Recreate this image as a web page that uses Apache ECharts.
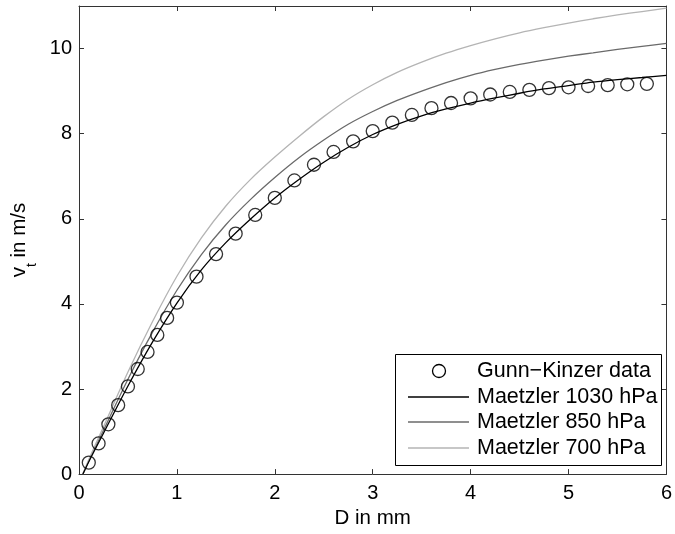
<!DOCTYPE html>
<html>
<head>
<meta charset="utf-8">
<script src="https://cdn.jsdelivr.net/npm/echarts@6/dist/echarts.min.js"></script>
<style>
html,body{margin:0;padding:0;background:#fff;}
#chart{width:675px;height:534px;}
</style>
</head>
<body>
<div id="chart"></div>
<script>
// Gunn-Kinzer measured data
var gkD = [0.1,0.2,0.3,0.4,0.5,0.6,0.7,0.8,0.9,1.0,1.2,1.4,1.6,1.8,2.0,2.2,2.4,2.6,2.8,3.0,3.2,3.4,3.6,3.8,4.0,4.2,4.4,4.6,4.8,5.0,5.2,5.4,5.6,5.8];
var gkV = [0.27,0.72,1.17,1.62,2.06,2.47,2.87,3.27,3.67,4.03,4.64,5.17,5.65,6.09,6.49,6.90,7.27,7.57,7.82,8.06,8.26,8.44,8.60,8.72,8.83,8.92,8.98,9.03,9.07,9.09,9.12,9.14,9.16,9.17];

// Maetzler curves
var fitD  = [0.04,0.1,0.25,0.5,0.75,1.0,1.25,1.5,1.75,2.0,2.25,2.5,2.75,3.0,3.25,3.5,3.75,4.0,4.25,4.5,4.75,5.0,5.25,5.5,5.75,6.0];
var v1030 = [0,0.29,0.96,2.07,3.10,4.02,4.80,5.44,5.99,6.49,6.93,7.33,7.68,7.98,8.22,8.42,8.58,8.72,8.84,8.95,9.05,9.13,9.21,9.27,9.32,9.37];
var v850  = [0,0.31,1.03,2.23,3.33,4.32,5.16,5.86,6.45,6.97,7.44,7.85,8.22,8.52,8.78,9.00,9.20,9.37,9.51,9.63,9.73,9.82,9.90,9.98,10.05,10.12];
var v700  = [0,0.34,1.11,2.40,3.58,4.65,5.55,6.30,6.92,7.45,7.94,8.40,8.81,9.15,9.44,9.68,9.89,10.07,10.23,10.37,10.49,10.60,10.70,10.79,10.87,10.95];

var seriesNames = ['Gunn\u2212Kinzer data','Maetzler 1030 hPa','Maetzler 850 hPa','Maetzler 700 hPa'];
var lineColors = ['#000000','#6a6a6a','#b4b4b4'];

var xTicks = {min:0, max:6, interval:1};
var yTicks = {min:0, max:11, interval:2};

function pairs(xs, ys){ return xs.map(function(x,i){ return [x, ys[i]]; }); }

var FONT = 'Liberation Sans, Arial, Helvetica, sans-serif';
var axisCol = '#333333';

var chart = echarts.init(document.getElementById('chart'), null, {renderer:'canvas'});

var legendRows = [371, 397, 422, 448];
var graphics = [
  {type:'rect', z:100, shape:{x:395.5, y:354.5, width:266, height:111}, style:{fill:'#fff', stroke:'#000', lineWidth:1}},
  {type:'circle', z:101, shape:{cx:439, cy:legendRows[0], r:6.5}, style:{fill:'none', stroke:'#000', lineWidth:1.3}}
];
for (var i=0;i<3;i++){
  graphics.push({type:'line', z:101, shape:{x1:408, y1:legendRows[i+1], x2:469, y2:legendRows[i+1]}, style:{stroke:lineColors[i], lineWidth:1.3}});
}
for (var j=0;j<4;j++){
  graphics.push({type:'text', z:101, x:477, y:legendRows[j], style:{text:seriesNames[j], fill:'#000', font:'21.5px ' + FONT, verticalAlign:'middle', align:'left'}});
}

var commonAxis = {
  axisLine:{show:true, onZero:false, lineStyle:{color:axisCol, width:1}},
  axisTick:{show:true, inside:true, length:5, lineStyle:{color:axisCol, width:1}},
  splitLine:{show:false}
};

var option = {
  animation:false,
  backgroundColor:'#fff',
  grid:{left:79, right:5, top:6, bottom:59, containLabel:false},
  xAxis:[
    Object.assign({type:'value', position:'bottom', min:xTicks.min, max:xTicks.max, interval:xTicks.interval,
      name:'D in mm', nameLocation:'middle', nameGap:33,
      nameTextStyle:{fontFamily:FONT, fontSize:20.5, color:'#000'},
      axisLabel:{fontFamily:FONT, fontSize:20, color:'#000', margin:9}}, commonAxis),
    Object.assign({type:'value', position:'top', min:xTicks.min, max:xTicks.max, interval:xTicks.interval,
      axisLabel:{show:false}}, commonAxis)
  ],
  yAxis:[
    Object.assign({type:'value', position:'left', min:yTicks.min, max:yTicks.max, interval:yTicks.interval,
      name:'{v|v}{t|t}{n| in m/s}', nameLocation:'middle', nameGap:40, nameRotate:90,
      nameTextStyle:{fontFamily:FONT, color:'#000', rich:{
        v:{fontFamily:FONT, fontSize:20.5, color:'#000', verticalAlign:'bottom', padding:[0,0,9,0]},
        t:{fontFamily:FONT, fontSize:14, color:'#000', verticalAlign:'bottom'},
        n:{fontFamily:FONT, fontSize:20.5, color:'#000', verticalAlign:'bottom', padding:[0,0,9,0]}
      }},
      axisLabel:{fontFamily:FONT, fontSize:20, color:'#000', margin:7, showMaxLabel:false}}, commonAxis),
    Object.assign({type:'value', position:'right', min:yTicks.min, max:yTicks.max, interval:yTicks.interval,
      axisLabel:{show:false}}, commonAxis)
  ],
  series:[
    {name:seriesNames[0], type:'scatter', data:pairs(gkD, gkV), symbol:'circle', symbolSize:13,
     itemStyle:{color:'rgba(0,0,0,0)', borderColor:'#000', borderWidth:1.3}, z:3},
    {name:seriesNames[1], type:'line', data:pairs(fitD, v1030), symbol:'none', smooth:0.3,
     lineStyle:{color:lineColors[0], width:1.3}, z:4},
    {name:seriesNames[2], type:'line', data:pairs(fitD, v850), symbol:'none', smooth:0.3,
     lineStyle:{color:lineColors[1], width:1.3}, z:2},
    {name:seriesNames[3], type:'line', data:pairs(fitD, v700), symbol:'none', smooth:0.3,
     lineStyle:{color:lineColors[2], width:1.3}, z:2}
  ],
  graphic:graphics
};
chart.setOption(option);
</script>
</body>
</html>
